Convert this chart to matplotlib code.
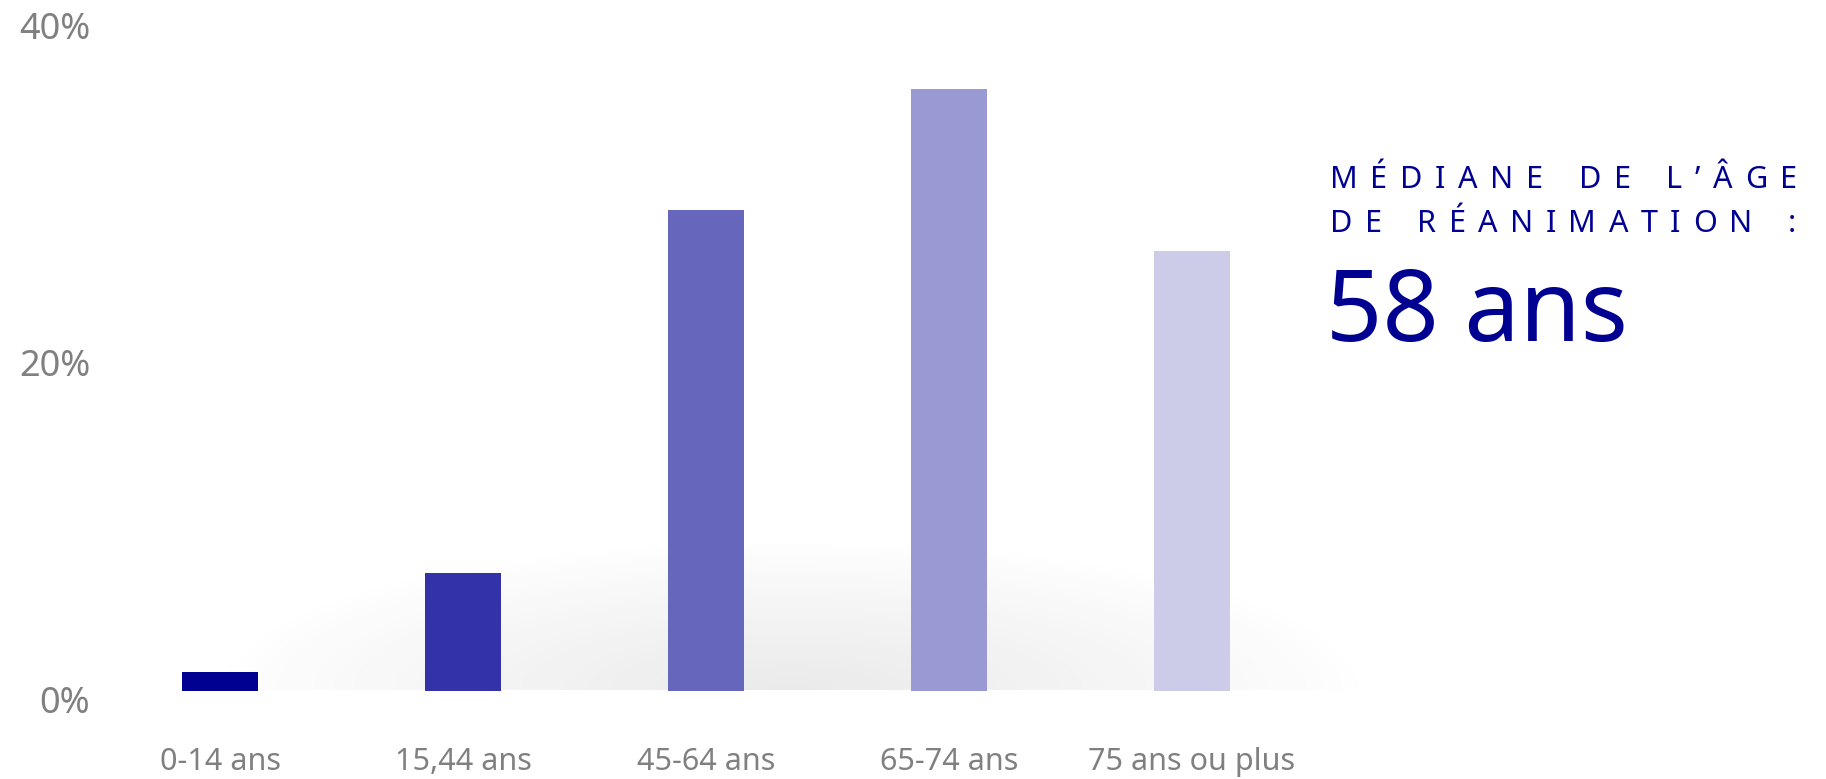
import numpy as np
import matplotlib
matplotlib.use("Agg")
import matplotlib.pyplot as plt
import matplotlib.transforms as mtransforms
from matplotlib.colors import to_rgb

# données
tranches = ["0-14 ans", "15,44 ans", "45-64 ans", "65-74 ans", "75 ans ou plus"]
parts = [1.1, 7.0, 28.5, 35.7, 26.1]
opacites = [1.0, 0.8, 0.6, 0.4, 0.2]
graduations = [0, 20, 40]
titre = ["MÉDIANE DE L’ÂGE", "DE RÉANIMATION :"]
mediane = "58 ans"

bleu = "#000091"
gris = "#808080"

plt.rcParams["font.family"] = ["Noto Sans", "DejaVu Sans"]

W, H = 1826, 779
fig = plt.figure(figsize=(W / 100, H / 100), dpi=100)

# axes placés en pixels
x0, y0 = 100, 88.5
ax = fig.add_axes([x0 / W, y0 / H, (W - x0) / W, (762.5 - y0) / H])
pas = 243.0
ax.set_xlim(-(220 - x0) / pas, (W - 220) / pas)
ax.set_ylim(0, 40)

# couleurs : bleu avec opacité décroissante sur fond blanc
base = np.array(to_rgb(bleu))
couleurs = [tuple(a * base + (1 - a) * np.ones(3)) for a in opacites]

# ombre douce derrière les barres
xs = np.linspace(-0.6, 5.6, 400)
ys = np.linspace(0, 12, 140)
X, Y = np.meshgrid(xs, ys)
r = np.sqrt(((X - 2.35) / 2.4) ** 2 + (Y / 9.0) ** 2)
alpha = 0.11 * np.clip(1 - r, 0, 1) ** 0.9
img = np.zeros((len(ys), len(xs), 4))
img[..., :3] = 0.25
img[..., 3] = alpha
ax.imshow(img, extent=(xs[0], xs[-1], ys[0], ys[-1]), origin="lower",
          aspect="auto", zorder=0, interpolation="bilinear")

pos = np.arange(len(tranches))
ax.bar(pos, parts, width=76 / pas, color=couleurs, zorder=2)

ax.set_xticks(pos)
ax.set_xticklabels(tranches, fontsize=22, color=gris)
ax.set_yticks(graduations)
ax.set_yticklabels([f"{g}%" for g in graduations], fontsize=26, color=gris)
ax.tick_params(axis="x", length=0, pad=41)
ax.tick_params(axis="y", length=0, pad=7)
decal = mtransforms.ScaledTranslation(0, -9 / 100, fig.dpi_scale_trans)
for lab in ax.get_yticklabels():
    lab.set_transform(lab.get_transform() + decal)
for s in ax.spines.values():
    s.set_visible(False)
ax.set_facecolor("none")

# encadré médiane, lettres espacées à la main
renderer = fig.canvas.get_renderer()


def texte_espace(ligne, x_px, y_px, largeur_px, taille):
    lettres = []
    for c in ligne:
        t = fig.text(0, 0, c, fontsize=taille, color=bleu, va="center", ha="left")
        lettres.append(t)
    largeurs = [t.get_window_extent(renderer).width for t in lettres]
    espace = fig.text(0, 0, "n", fontsize=taille)
    l_esp = espace.get_window_extent(renderer).width
    espace.remove()
    largeurs = [l_esp * 0.55 if c == " " else w for c, w in zip(ligne, largeurs)]
    suivi = (largeur_px - sum(largeurs)) / (len(ligne) - 1)
    x = x_px
    for t, w in zip(lettres, largeurs):
        t.set_position((x / W, 1 - y_px / H))
        x += w + suivi


texte_espace(titre[0], 1330, 180.5, 467, 22)
texte_espace(titre[1], 1330, 223.6, 466, 22)
fig.text(1326 / W, 1 - 341 / H, mediane, fontsize=71, color=bleu,
         va="baseline", ha="left")

fig.savefig("out.png", dpi=100)
